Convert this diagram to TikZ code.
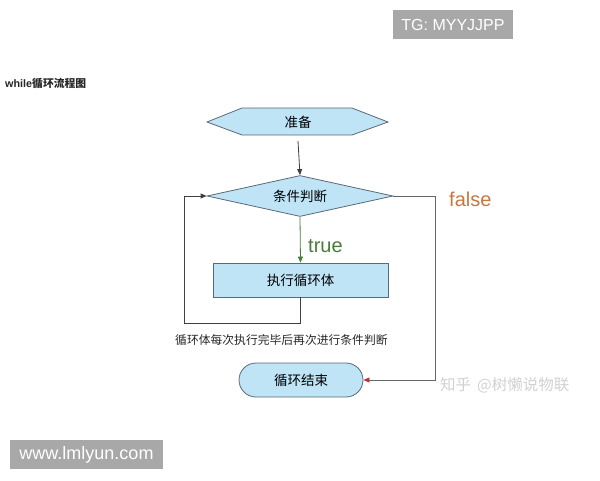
\documentclass[tikz,border=0pt]{standalone}
\usepackage{fontspec}
\setmainfont{Liberation Sans}
\newfontfamily\cjk{Noto Sans CJK SC}
\usetikzlibrary{shapes.geometric,arrows.meta}
\definecolor{boxfill}{RGB}{191,228,246}
\definecolor{boxline}{RGB}{90,105,120}
\definecolor{truegreen}{RGB}{70,125,55}
\definecolor{falseorange}{RGB}{200,118,63}
\definecolor{arrred}{RGB}{192,48,58}
\definecolor{wmgray}{RGB}{168,168,168}
\begin{document}
\begin{tikzpicture}[x=1pt,y=-1pt,
  shapebox/.style={draw=boxline,fill=boxfill,line width=0.8pt,font=\cjk\fontsize{13.5}{15}\selectfont,inner sep=0pt},
  conn/.style={line width=0.8pt,draw=black!75},
  tipblk/.style={-{Triangle[length=6pt,width=5pt]}}
]
\useasboundingbox (0,0) rectangle (600,480);
% watermark boxes
\node[fill=wmgray,text=white,minimum width=120pt,minimum height=29pt,inner sep=0pt,font=\fontsize{16}{18}\selectfont] (tg) at (453,24.5) {TG: MYYJJPP};
\node[fill=wmgray,text=white,minimum width=153pt,minimum height=29pt,inner sep=0pt,font=\fontsize{18}{20}\selectfont] (www) at (86.5,454.5) {www.lmlyun.com};
% title
\node[anchor=west,inner sep=0pt,font=\bfseries\fontsize{10.8}{12}\selectfont,text=black!85] (title) at (5,83) {while{\cjk 循环流程图}};
% nodes
\path[shapebox] (207,122) -- (242,108) -- (352,108) -- (388,122) -- (352,135) -- (242,135) -- cycle;
\node[inner sep=0pt,font=\cjk\fontsize{13.5}{15}\selectfont] (prep) at (298,122) {准备};
\coordinate (prepB) at (298,141);
\node[shapebox,diamond,minimum width=186pt,minimum height=41pt,aspect=4.5] (cond) at (300,196) {条件判断};
\node[shapebox,rectangle,minimum width=175pt,minimum height=34pt] (body) at (300.5,280) {执行循环体};
\node[shapebox,rectangle,rounded corners=17pt,minimum width=124pt,minimum height=34pt] (endn) at (301,380) {循环结束};
% labels
\node[anchor=west,inner sep=0pt,text=truegreen,font=\fontsize{20}{22}\selectfont] (truel) at (308,246) {true};
\node[anchor=west,inner sep=0pt,text=falseorange,font=\fontsize{20}{22}\selectfont] (falsel) at (449,199) {false};
\node[anchor=west,inner sep=0pt,font=\cjk\fontsize{11.8}{13}\selectfont,text=black!85] (note) at (175,340) {循环体每次执行完毕后再次进行条件判断};
\node[anchor=west,inner sep=0pt,text=black!18,font=\cjk\fontsize{15.5}{17}\selectfont] (zh) at (440,385) {知乎\hspace{6pt}@树懒说物联};
% connectors
\draw[conn,tipblk] (prepB) -- (cond.north);
\draw[conn,draw=truegreen,-{Triangle[length=6pt,width=5pt]}] (cond.south) -- (body.north);
\coordinate (lb) at (300.5,323);
\coordinate (ll) at (184,323);
\coordinate (lt) at (184,196);
\draw[conn,tipblk] (body.south) -- (lb) -- (ll) -- (lt) -- (cond.west);
\coordinate (fr) at (435,196);
\coordinate (fb) at (435,380);
\draw[conn,draw=black!60,-{Triangle[length=6pt,width=5pt,color=arrred]}] (cond.east) -- (fr) -- (fb) -- (endn.east);
\end{tikzpicture}
\end{document}
